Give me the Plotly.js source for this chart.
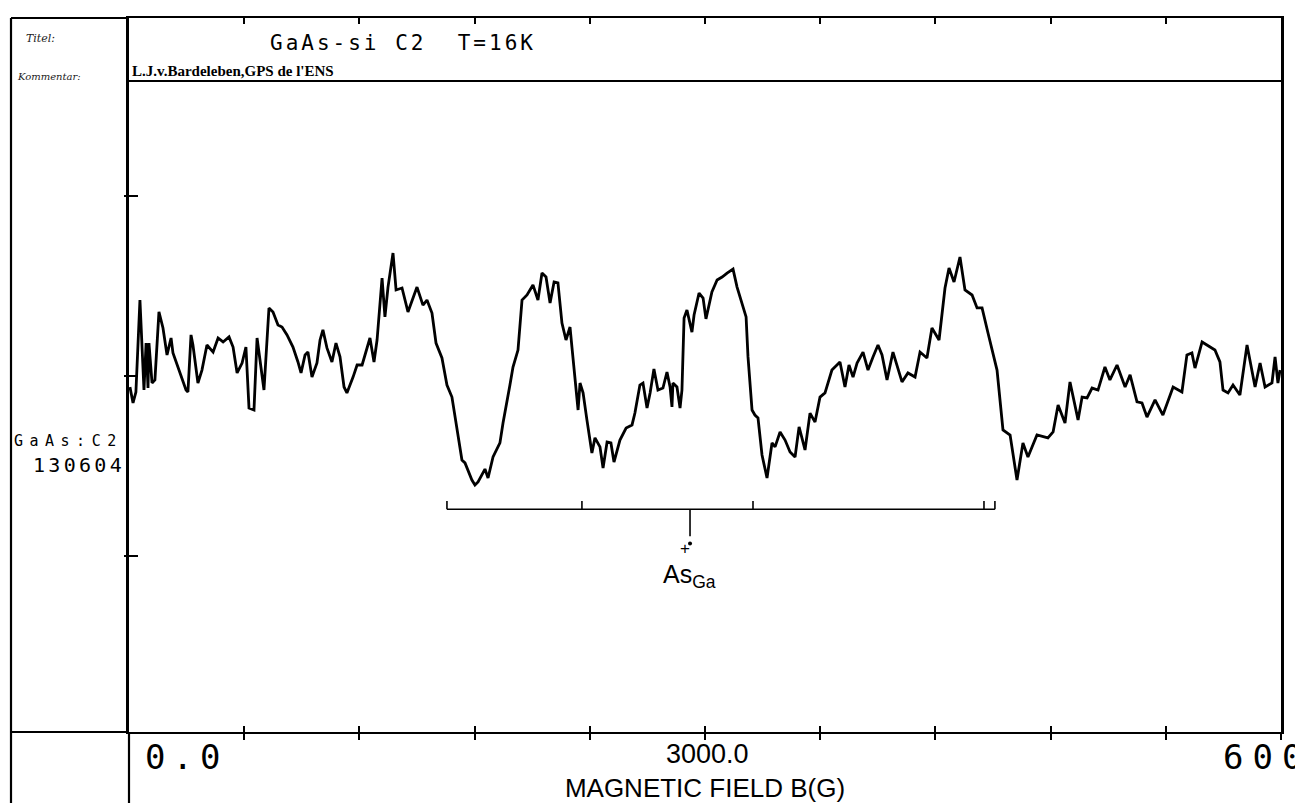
<!DOCTYPE html>
<html><head><meta charset="utf-8">
<script src="https://cdn.plot.ly/plotly-3.0.1.min.js"></script>
<style>html,body{margin:0;padding:0;background:#fff;} #chart{width:1295px;height:803px;}</style>
</head><body><div id="chart"></div>
<script>
// Magnetic field (G)
const field = [
 5,21,36,57,78,89,99,104,120,135,
 156,177,198,219,229,260,297,307,323,333,
 359,380,406,438,464,490,521,542,563,589,
 609,625,651,667,693,703,729,750,776,797,
 823,854,880,896,917,932,953,979,995,1010,
 1031,1057,1078,1099,1120,1135,1167,1188,1214,1245,
 1255,1276,1292,1318,1333,1349,1375,1391,1422,1453,
 1500,1531,1552,1578,1599,1630,1656,1682,1714,1734,
 1750,1786,1802,1818,1854,1870,1896,1932,1948,1969,
 1984,2000,2026,2047,2073,2104,2130,2151,2172,2193,
 2214,2234,2255,2276,2297,2307,2339,2349,2365,2385,
 2401,2411,2427,2453,2469,2490,2510,2526,2557,2589,
 2620,2635,2661,2677,2698,2714,2734,2755,2781,2802,
 2818,2828,2833,2854,2870,2880,2891,2906,2932,2943,
 2969,2990,3005,3036,3063,3089,3115,3146,3167,3214,
 3224,3245,3260,3276,3297,3323,3349,3365,3391,3417,
 3443,3469,3490,3521,3547,3573,3599,3625,3661,3703,
 3729,3750,3771,3792,3823,3849,3875,3901,3922,3948,
 3979,4026,4057,4094,4120,4156,4182,4219,4250,4271,
 4297,4328,4354,4391,4417,4443,4474,4500,4521,4552,
 4589,4625,4656,4682,4729,4786,4813,4839,4875,4901,
 4943,4964,4990,5016,5047,5083,5109,5146,5188,5214,
 5250,5276,5302,5344,5385,5438,5484,5510,5536,5552,
 5589,5656,5682,5698,5724,5750,5786,5823,5849,5865,
 5891,5917,5953,5969,5984,5995
];
// Signal (arbitrary units)
const signal = [
 -0.061,-0.150,-0.089,0.422,-0.078,0.183,-0.067,0.183,-0.039,-0.022,
 0.356,0.267,0.117,0.211,0.128,0.033,-0.078,-0.089,0.228,0.172,
 -0.039,0.033,0.172,0.133,0.211,0.189,0.217,0.161,0.017,0.072,
 0.161,-0.178,-0.189,0.211,-0.006,-0.078,0.378,0.356,0.283,0.272,
 0.228,0.161,0.078,0.017,0.117,0.133,-0.006,0.072,0.200,0.256,
 0.156,0.078,0.183,0.106,-0.061,-0.094,-0.006,0.061,0.061,0.172,
 0.211,0.078,0.200,0.544,0.328,0.494,0.683,0.478,0.489,0.356,
 0.494,0.394,0.422,0.350,0.183,0.100,-0.050,-0.117,-0.339,-0.467,
 -0.483,-0.578,-0.606,-0.589,-0.517,-0.567,-0.450,-0.372,-0.261,-0.150,
 -0.050,0.050,0.144,0.422,0.450,0.506,0.422,0.572,0.550,0.406,
 0.522,0.517,0.294,0.200,0.272,0.161,-0.189,-0.039,-0.094,-0.244,
 -0.356,-0.428,-0.344,-0.394,-0.511,-0.367,-0.372,-0.478,-0.356,-0.289,
 -0.272,-0.206,-0.050,-0.039,-0.178,-0.094,0.039,-0.078,-0.067,0.022,
 -0.061,-0.172,-0.039,-0.061,-0.178,-0.078,0.322,0.367,0.244,0.339,
 0.461,0.433,0.317,0.467,0.533,0.550,0.572,0.594,0.494,0.328,
 0.106,-0.189,-0.217,-0.233,-0.439,-0.567,-0.372,-0.394,-0.311,-0.356,
 -0.422,-0.450,-0.283,-0.411,-0.206,-0.256,-0.117,-0.094,0.033,0.078,
 -0.061,0.061,-0.006,0.072,0.133,0.033,0.106,0.172,0.117,-0.022,
 0.133,-0.033,0.017,-0.006,0.133,0.100,0.267,0.200,0.489,0.600,
 0.522,0.661,0.478,0.450,0.378,0.378,0.239,0.128,0.033,-0.300,
 -0.328,-0.578,-0.372,-0.450,-0.328,-0.344,-0.311,-0.161,-0.261,-0.033,
 -0.244,-0.117,-0.122,-0.067,-0.078,0.050,-0.022,0.061,-0.061,0.006,
 -0.144,-0.150,-0.228,-0.133,-0.217,-0.061,-0.089,0.117,0.128,0.044,
 0.189,0.144,0.078,-0.078,-0.094,-0.050,-0.106,0.172,0.033,-0.061,
 0.072,-0.061,-0.039,0.106,-0.039,0.033
];
// Stick diagram of As_Ga lines (G)
const bracketField = [1656, 2359, 3250, 4453, 4510];
const bracketLevel = -0.74;
const asGaField = 2922;
// Axis ticks / labels
const xTickStep = 600;
const yTickVals = [-1, 0, 1];
const xLabelVals = [0, 3000, 6000];
const xLabelText = ['0.0', '3000.0', '6000.0'];
const titleText = 'GaAs-si C2  T=16K';
const authorText = "L.J.v.Bardeleben,GPS de l'ENS";
const sampleLines = ['GaAs:C2', '130604'];
const axisTitle = 'MAGNETIC FIELD B(G)';
const noteLines = ['Titel:', 'Kommentar:'];

const XR = [0, 6000];
const YR = [-1.978, 1.989];
const MONO = 'DejaVu Sans Mono, monospace';
const SANS = 'Liberation Sans, Arial, sans-serif';

// bracket trace
const bx = [bracketField[0], bracketField[bracketField.length-1], null];
const by = [bracketLevel, bracketLevel, null];
bracketField.forEach(f => { bx.push(f, f, null); by.push(bracketLevel, bracketLevel + 0.045, null); });
bx.push(asGaField, asGaField, null);
by.push(bracketLevel, bracketLevel - 0.15, null);

const traces = [
  {x: field, y: signal, mode: 'lines', line: {color: '#000', width: 2.8}, hoverinfo: 'skip', showlegend: false},
  {x: bx, y: by, mode: 'lines', line: {color: '#000', width: 1.6}, hoverinfo: 'skip', showlegend: false, connectgaps: false},
  {x: [asGaField], y: [bracketLevel - 0.19], mode: 'markers', marker: {color: '#000', size: 4}, hoverinfo: 'skip', showlegend: false},
  {x: [0], y: [0], xaxis: 'x2', yaxis: 'y2', mode: 'markers', marker: {opacity: 0}, hoverinfo: 'skip', showlegend: false}
];

const px2paperX = p => (p - 129) / 1152;
const px2paperY = p => (732 - p) / 714;

const annotations = [];
const spacing = {};
function addAnn(a, ls) { if (ls) spacing[annotations.length] = ls; annotations.push(Object.assign({showarrow: false}, a)); }

addAnn({text: titleText, xref: 'paper', yref: 'paper', x: px2paperX(268), y: px2paperY(43), xanchor: 'left', yanchor: 'middle', align: 'left', font: {family: MONO, size: 21, color: '#000'}}, 3);
addAnn({text: authorText, xref: 'paper', yref: 'paper', x: px2paperX(130), y: px2paperY(71), xanchor: 'left', yanchor: 'middle', align: 'left', font: {family: 'Liberation Serif, serif', size: 15, weight: 'bold', color: '#000'}});
addAnn({text: noteLines[0], xref: 'paper', yref: 'paper', x: px2paperX(24), y: px2paperY(38), xanchor: 'left', yanchor: 'middle', align: 'left', font: {family: 'DejaVu Serif, serif', size: 11, style: 'italic', color: '#222'}});
addAnn({text: noteLines[1], xref: 'paper', yref: 'paper', x: px2paperX(15), y: px2paperY(76), xanchor: 'left', yanchor: 'middle', align: 'left', font: {family: 'DejaVu Serif, serif', size: 10, style: 'italic', color: '#222'}});
addAnn({text: sampleLines[0], xref: 'paper', yref: 'paper', x: px2paperX(13), y: px2paperY(441), xanchor: 'left', yanchor: 'middle', align: 'left', borderpad: 0, font: {family: MONO, size: 15, color: '#000'}}, 6.5);
addAnn({text: sampleLines[1], xref: 'paper', yref: 'paper', x: px2paperX(32), y: px2paperY(465), xanchor: 'left', yanchor: 'middle', align: 'left', borderpad: 0, font: {family: MONO, size: 20, color: '#000'}}, 3.3);
addAnn({text: xLabelText[0], xref: 'x', yref: 'paper', x: xLabelVals[0], xshift: 14, y: 0, yshift: -3, xanchor: 'left', yanchor: 'top', align: 'left', font: {family: MONO, size: 34, color: '#000'}}, 7);
addAnn({text: xLabelText[1], xref: 'x', yref: 'paper', x: xLabelVals[1], xshift: 2, y: 0, yshift: -5, xanchor: 'center', yanchor: 'top', font: {family: SANS, size: 27, color: '#000'}});
addAnn({text: xLabelText[2], xref: 'x', yref: 'paper', x: xLabelVals[2], xshift: -60, y: 0, yshift: -3, xanchor: 'left', yanchor: 'top', align: 'left', font: {family: MONO, size: 34, color: '#000'}}, 9);
addAnn({text: '+', xref: 'x', yref: 'y', x: asGaField - 25, y: bracketLevel - 0.22, xanchor: 'center', yanchor: 'middle', font: {family: SANS, size: 17, color: '#000'}});
addAnn({text: 'As<sub>Ga</sub>', xref: 'x', yref: 'y', x: asGaField - 150, y: bracketLevel - 0.27, xanchor: 'left', yanchor: 'top', align: 'left', font: {family: SANS, size: 25, color: '#000'}});

// letter spacing for the plotter-like fonts
let css = '';
Object.keys(spacing).forEach(i => { css += `.annotation[data-index="${i}"] text{letter-spacing:${spacing[i]}px;}\n`; });
const st = document.createElement('style'); st.textContent = css; document.head.appendChild(st);

const lineStyle = {color: '#000', width: 2.2};
const L = px2paperX(11), B = px2paperY(803);
const shapes = [
  {type: 'line', xref: 'paper', yref: 'paper', x0: 0, x1: 1, y0: px2paperY(81), y1: px2paperY(81), line: {color: '#000', width: 1.8}},
  {type: 'line', xref: 'paper', yref: 'paper', x0: L, x1: L, y0: B, y1: 1, line: lineStyle},
  {type: 'line', xref: 'paper', yref: 'paper', x0: 0, x1: 0, y0: B, y1: 0, line: lineStyle},
  {type: 'line', xref: 'paper', yref: 'paper', x0: L, x1: 0, y0: 0, y1: 0, line: lineStyle},
  {type: 'line', xref: 'paper', yref: 'paper', x0: L, x1: 0, y0: 1, y1: 1, line: lineStyle}
];

const layout = {
  width: 1295, height: 803,
  margin: {l: 129, r: 14, t: 18, b: 71, pad: 0},
  paper_bgcolor: '#fff', plot_bgcolor: '#fff',
  showlegend: false,
  xaxis: {range: XR, tick0: 0, dtick: xTickStep, ticks: 'outside', ticklen: 6, tickwidth: 2, tickcolor: '#000',
          showticklabels: false, showline: true, linecolor: '#000', linewidth: 2, mirror: true,
          showgrid: false, zeroline: false,
          title: {text: axisTitle, font: {family: SANS, size: 26, color: '#000'}, standoff: 40}},
  xaxis2: {overlaying: 'x', range: XR, tick0: 0, dtick: xTickStep, ticks: 'inside', ticklen: 6, tickwidth: 2, tickcolor: '#000',
           showticklabels: false, showline: false, mirror: 'ticks', showgrid: false, zeroline: false, side: 'bottom'},
  yaxis: {range: YR, tickvals: yTickVals, ticks: 'inside', ticklen: 9, tickwidth: 2, tickcolor: '#000',
          showticklabels: false, showline: true, linecolor: '#000', linewidth: 2.6, mirror: true,
          showgrid: false, zeroline: false},
  yaxis2: {overlaying: 'y', range: YR, tickvals: yTickVals, ticks: 'outside', ticklen: 4, tickwidth: 2, tickcolor: '#000',
           showticklabels: false, showline: false, showgrid: false, zeroline: false, side: 'left'},
  annotations: annotations,
  shapes: shapes
};

Plotly.newPlot('chart', traces, layout, {staticPlot: true, displayModeBar: false});
</script>
</body></html>
